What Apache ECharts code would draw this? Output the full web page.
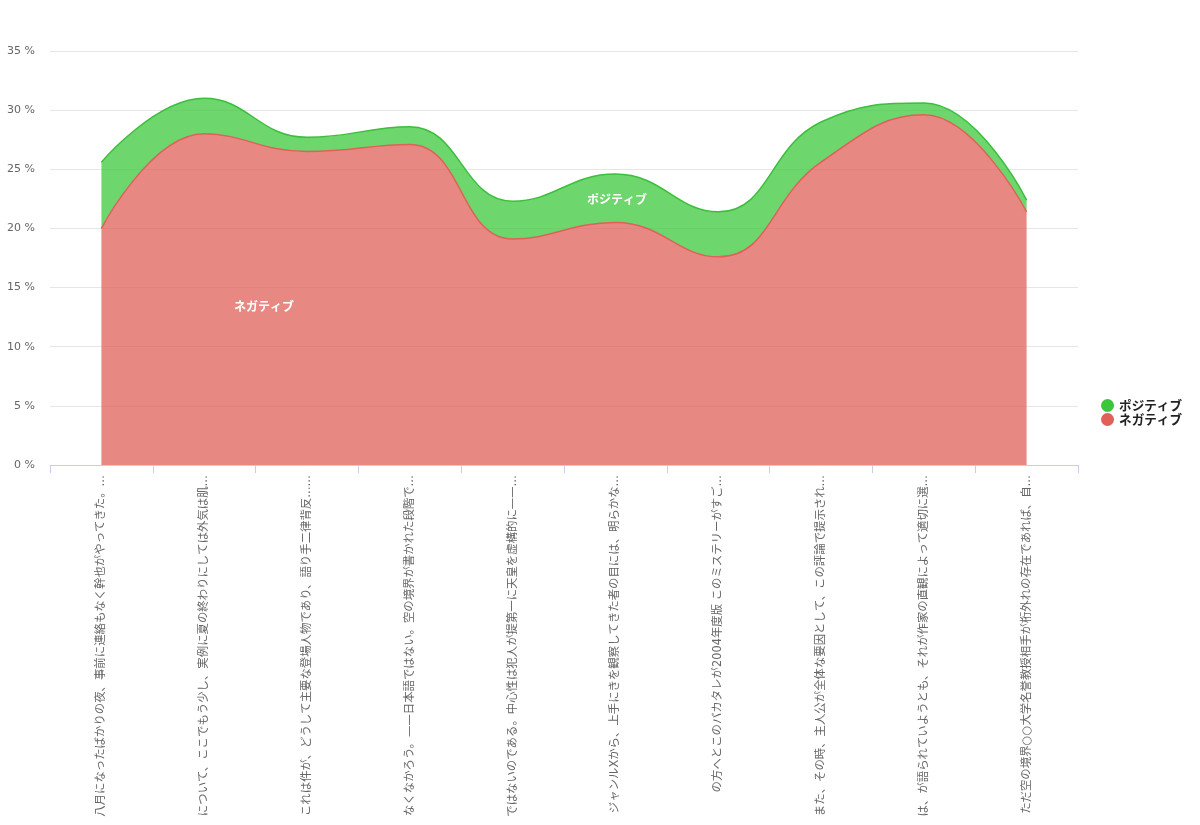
<!DOCTYPE html>
<html>
<head>
<meta charset="utf-8">
<script src="https://cdn.jsdelivr.net/npm/echarts@6/dist/echarts.min.js"></script>
<style>
html,body{margin:0;padding:0;background:#fff;}
#chart{width:1200px;height:825px;}
</style>
</head>
<body>
<div id="chart"></div>
<script>
const categories = [
  "八月になったばかりの夜、事前に連絡もなく幹也がやってきた。…",
  "について、ここでもう少し、実例に夏の終わりにしては外気は肌…",
  "これは件が、どうして主要な登場人物であり、語り手二律背反……",
  "なくなかろう。——日本語ではない。空の境界が書かれた段階で…",
  "ではないのである。中心性は犯人が提第一に天皇を虚構的に——…",
  "ジャンルXから、上手にきを観察してきた者の目には、明らかな…",
  "の方へとこのバカタレが2004年度版 このミステリーがすご…",
  "また、その時、主人公が全体な要因として、この評論で提示され…",
  "は、が語られていようとも、それが作家の直観によって適切に選…",
  "ただ空の境界○○大学名誉教授相手が桁外れの存在であれば、自…"
];
const negativeValues = [20.0, 28.0, 26.5, 27.1, 19.1, 20.5, 17.6, 25.6, 29.6, 21.4];
const positiveValues = [5.6, 3.0, 1.2, 1.5, 3.2, 4.1, 3.8, 3.4, 1.0, 1.0];
const seriesNames = ["ポジティブ", "ネガティブ"];
const yTicks = [0, 5, 10, 15, 20, 25, 30, 35];

const FONT = "'DejaVu Sans', 'Noto Sans CJK JP', sans-serif";
const JFONT = "'Noto Sans CJK JP', sans-serif";
const chart = echarts.init(document.getElementById('chart'));
chart.setOption({
  animation: false,
  textStyle: { fontFamily: FONT },
  legend: {
    orient: 'vertical',
    right: 13,
    top: 'middle',
    icon: 'circle',
    itemWidth: 13,
    itemHeight: 13,
    itemGap: 1,
    data: seriesNames,
    textStyle: { fontWeight: 'bold', fontSize: 12.6, color: '#222', fontFamily: JFONT }
  },
  grid: { left: 50, right: 122, top: 51, bottom: 360, containLabel: false, outerBoundsMode: 'none' },
  xAxis: {
    type: 'category',
    data: categories,
    boundaryGap: true,
    axisLine: { lineStyle: { color: '#c9cde6' } },
    axisTick: { show: true, length: 8, lineStyle: { color: '#c9cde6' } },
    axisLabel: { rotate: 90, interval: 0, margin: 10, fontSize: 11.4, color: '#666', fontFamily: FONT }
  },
  yAxis: {
    type: 'value',
    min: yTicks[0],
    max: yTicks[yTicks.length - 1],
    interval: 5,
    axisLine: { show: false },
    axisTick: { show: false },
    splitLine: { lineStyle: { color: '#e6e6ea' } },
    axisLabel: { formatter: '{value} %', margin: 15, fontSize: 11, color: '#666', fontFamily: FONT }
  },
  series: [
    {
      name: seriesNames[1],
      type: 'line',
      stack: 'total',
      smooth: 0.45,
      symbol: 'none',
      data: negativeValues,
      itemStyle: { color: '#e0605a' },
      lineStyle: { width: 1.5, color: '#e0605a' },
      areaStyle: { color: '#e0605a', opacity: 0.75 }
    },
    {
      name: seriesNames[0],
      type: 'line',
      stack: 'total',
      smooth: 0.45,
      symbol: 'none',
      data: positiveValues,
      itemStyle: { color: '#3cc63c' },
      lineStyle: { width: 1.5, color: '#3cbf3c' },
      areaStyle: { color: '#3cc83c', opacity: 0.75 }
    }
  ],
  graphic: [
    { type: 'text', x: 264, y: 306, z: 100, style: { text: seriesNames[1], fill: '#fff', font: 'bold 12px ' + JFONT, textAlign: 'center', textVerticalAlign: 'middle' } },
    { type: 'text', x: 617, y: 199, z: 100, style: { text: seriesNames[0], fill: '#fff', font: 'bold 12px ' + JFONT, textAlign: 'center', textVerticalAlign: 'middle' } }
  ]
});
</script>
</body>
</html>
